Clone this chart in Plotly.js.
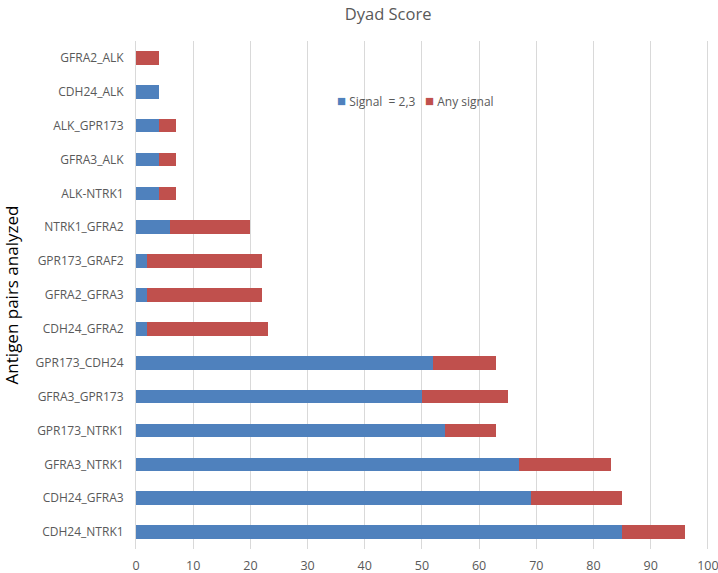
<!DOCTYPE html>
<html>
<head>
<meta charset="utf-8">
<script src="https://cdn.plot.ly/plotly-3.0.1.min.js"></script>
<style>html,body{margin:0;padding:0;background:#fff;}#chart{width:718px;height:573px;}</style>
</head>
<body>
<div id="chart"></div>
<script>
// categories, top to bottom
const pairs = ["GFRA2_ALK","CDH24_ALK","ALK_GPR173","GFRA3_ALK","ALK-NTRK1","NTRK1_GFRA2","GPR173_GRAF2","GFRA2_GFRA3","CDH24_GFRA2","GPR173_CDH24","GFRA3_GPR173","GPR173_NTRK1","GFRA3_NTRK1","CDH24_GFRA3","CDH24_NTRK1"];
const signal23 = [0,4,4,4,4,6,2,2,2,52,50,54,67,69,85];
const anySignal = [4,0,3,3,3,14,20,20,21,11,15,9,16,16,11];
const xTicks = [0,10,20,30,40,50,60,70,80,90,100];
const seriesNames = ["Signal\u00a0\u00a0= 2,3", "Any signal"];
const seriesColors = ["#4F81BD", "#C0504D"];

const font = "Open Sans, Liberation Sans, sans-serif";
const data = [
  {type:"bar", orientation:"h", name:seriesNames[0], y:pairs, x:signal23, marker:{color:seriesColors[0]}},
  {type:"bar", orientation:"h", name:seriesNames[1], y:pairs, x:anySignal, marker:{color:seriesColors[1]}}
];
const legendFont = {family:font, size:12, color:"#595959"};
const legendX = [0.348, 0.5];
const layout = {
  width:718, height:573,
  margin:{l:136, r:9, t:41, b:24},
  paper_bgcolor:"#fff", plot_bgcolor:"#fff",
  barmode:"stack", bargap:0.6,
  showlegend:false,
  title:{text:"Dyad Score", font:{family:font, size:16.5, color:"#595959"}, x:0.44, xref:"paper", xanchor:"center", yref:"container", y:0.976, yanchor:"middle"},
  xaxis:{range:[0,100.2], tickvals:xTicks, ticktext:xTicks.map(String), showgrid:true, gridcolor:"#D9D9D9", gridwidth:1, zeroline:false, showline:false, ticks:"", ticklabelstandoff:7, ticklabeloverflow:"allow", tickfont:{family:font, size:12.5, color:"#595959"}, fixedrange:true},
  yaxis:{type:"category", autorange:"reversed", showgrid:false, zeroline:false, showline:true, linecolor:"#D9D9D9", linewidth:1, ticks:"", ticklabelstandoff:9, tickfont:{family:font, size:12, color:"#595959"},
    title:{text:"Antigen pairs analyzed", font:{family:font, size:17, color:"#000"}, standoff:21}},
  annotations: seriesNames.map((n,i) => ({
    xref:"paper", yref:"paper", x:legendX[i], y:0.884, xanchor:"left", yanchor:"middle", showarrow:false,
    text:"<span style='color:"+seriesColors[i]+";font-size:15px'>\u25A0</span> "+n, font:legendFont
  }))
};
Plotly.newPlot("chart", data, layout, {displayModeBar:false, staticPlot:true});
</script>
</body>
</html>
